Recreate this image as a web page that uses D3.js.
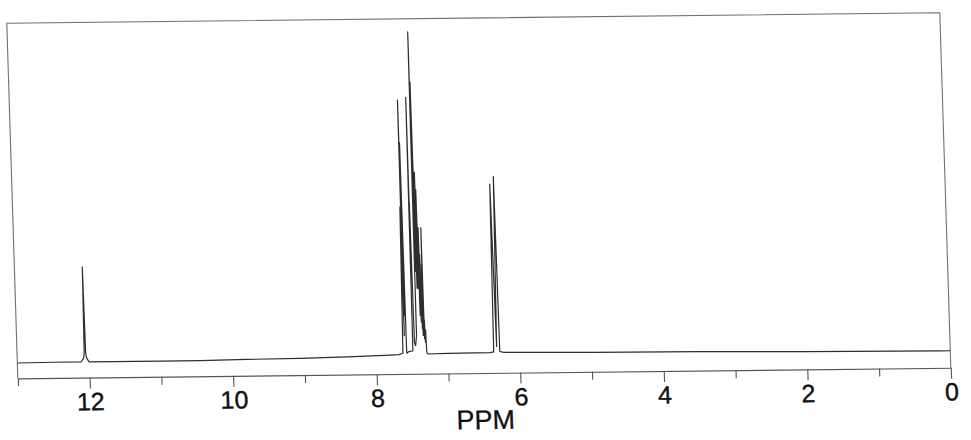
<!DOCTYPE html>
<html>
<head>
<meta charset="utf-8">
<script src="https://cdn.jsdelivr.net/npm/d3@7"></script>
<style>
  html, body { margin: 0; padding: 0; background: #ffffff; }
  svg { display: block; }
</style>
</head>
<body>
<div id="chart"></div>
<script>
// ---- data ----
const axisLabel = "PPM";
const majorTicks = [12, 10, 8, 6, 4, 2, 0];
const minorTicks = [13, 11, 9, 7, 5, 3, 1];
const tickLabels = ["12", "10", "8", "6", "4", "2", "0"];

// trace vertices (chemical shift, relative intensity), left to right
const tracePpm = [
  13.00, 12.50, 12.11, 12.075, 12.064, 12.054, 12.044, 12.033, 12.00,
  11.00, 10.45, 9.80, 9.06, 8.40, 7.80, 7.68, 7.625,
  7.604, 7.598, 7.592, 7.587, 7.582, 7.572, 7.565, 7.55,
  7.485, 7.476, 7.4735, 7.471, 7.46, 7.445,
  7.428, 7.420, 7.417, 7.414, 7.412, 7.410, 7.399, 7.388, 7.382, 7.376,
  7.368, 7.360, 7.355, 7.350, 7.343, 7.338, 7.334, 7.330, 7.326, 7.322,
  7.317, 7.312, 7.306, 7.300, 7.292, 7.28,
  7.00, 6.41, 6.36, 6.343, 6.317, 6.290, 6.275, 6.22,
  5.00, 3.48, 2.00, 0.14, 0.00
];
const traceIntensity = [
  -0.008, -0.007, -0.007, 0.004, 0.02, 0.275, 0.02, 0.004, -0.007,
  -0.007, -0.007, -0.005, -0.004, -0.001, 0.003, 0.004, 0.008,
  0.442, 0.06, 0.759, 0.12, 0.632, 0.01, 0.008, 0.012,
  0.015, 0.767, 0.25, 0.456, 0.04, 0.03,
  0.06, 0.961, 0.25, 0.685, 0.30, 0.812, 0.20, 0.545, 0.20, 0.492,
  0.12, 0.38, 0.10, 0.30, 0.08, 0.18, 0.06, 0.27, 0.09, 0.379,
  0.05, 0.106, 0.04, 0.077, 0.01, 0.005,
  0.006, 0.007, 0.009, 0.507, 0.025, 0.529, 0.01, 0.007,
  0.004, 0.003, -0.001, -0.003, -0.003
];

// ---- layout ----
const W = 971, H = 440;
const plotW = 933, axisY = 355, baseY = 337;

const svg = d3.select("#chart").append("svg")
  .attr("width", W).attr("height", H)
  .attr("viewBox", `0 0 ${W} ${H}`);

svg.append("rect").attr("width", W).attr("height", H).attr("fill", "#ffffff");

// the scanned sheet is slightly rotated / sheared
const g = svg.append("g")
  .attr("transform", "matrix(1,-0.0113,0.031,1,6.8,23.3)");

const x = d3.scaleLinear().domain([13, 0]).range([0, plotW]);
const y = d3.scaleLinear().domain([0, 1]).range([baseY, 0]);

// frame (top, left, right)
const frame = d3.path();
frame.moveTo(x(13), axisY);
frame.lineTo(x(13), 0);
frame.lineTo(x(0), 0);
frame.lineTo(x(0), axisY);
g.append("path")
  .attr("d", frame.toString())
  .attr("fill", "none")
  .attr("stroke", "#707070")
  .attr("stroke-width", 1.1);

// minor ticks
const minorAxis = g.append("g")
  .attr("transform", `translate(0,${axisY})`)
  .call(d3.axisBottom(x).tickValues(minorTicks).tickSize(8).tickSizeOuter(0).tickFormat(""));
minorAxis.select(".domain").remove();
minorAxis.selectAll(".tick line").attr("stroke", "#555").attr("stroke-width", 1.1);

// major ticks + labels
const majorAxis = g.append("g")
  .attr("transform", `translate(0,${axisY})`)
  .call(d3.axisBottom(x).tickValues(majorTicks).tickSize(11).tickSizeOuter(0).tickPadding(4)
    .tickFormat((d, i) => tickLabels[i]));
majorAxis.attr("font-family", "'Liberation Sans', Arial, sans-serif").attr("font-size", 25);
majorAxis.select(".domain").attr("stroke", "#555").attr("stroke-width", 1.2);
majorAxis.selectAll(".tick line").attr("stroke", "#555").attr("stroke-width", 1.1);
majorAxis.selectAll(".tick text").attr("fill", "#111")
  .attr("stroke", "#111").attr("stroke-width", 0.4);

// axis title
g.append("text")
  .attr("x", x(6.5))
  .attr("y", 411)
  .attr("text-anchor", "middle")
  .attr("font-family", "'Liberation Sans', Arial, sans-serif")
  .attr("font-size", 27)
  .attr("fill", "#111")
  .attr("stroke", "#111")
  .attr("stroke-width", 0.3)
  .text(axisLabel);

// spectrum trace
const pts = tracePpm.map((p, i) => [p, traceIntensity[i]]);
const line = d3.line().x(d => x(d[0])).y(d => y(d[1]));
g.append("path")
  .datum(pts)
  .attr("d", line)
  .attr("fill", "none")
  .attr("stroke", "#2e2e2e")
  .attr("stroke-width", 1.2)
  .attr("stroke-linejoin", "round");
</script>
</body>
</html>
